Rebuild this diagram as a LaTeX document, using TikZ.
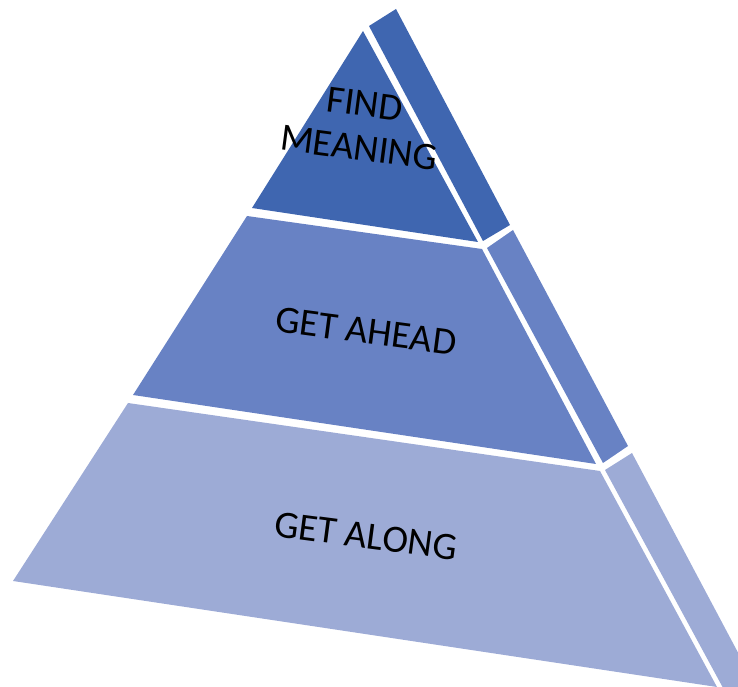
\documentclass[tikz,border=0pt]{standalone}
\usepackage{fontspec}
\setmainfont{Carlito}
\usepackage{tikz}
\usetikzlibrary{calc}

\definecolor{tierTop}{RGB}{63,102,176}
\definecolor{tierMid}{RGB}{104,130,196}
\definecolor{tierLow}{RGB}{157,171,214}

\tikzset{
  tiertext/.style={font=\fontsize{11}{12.6}\selectfont, text=black, align=center, rotate=-7.5},
}

\begin{document}
\begin{tikzpicture}[x=0.1mm,y=-0.1mm]
\useasboundingbox (0,0) rectangle (738,687);
\begin{scope}
\clip (0,0) rectangle (738,687);
% front face, three tiers
\fill[tierTop] (363,31) -- (252,208) -- (478,242) -- cycle;
\fill[tierMid] (247,216) -- (482,249) -- (596,464) -- (133,395) -- cycle;
\fill[tierLow] (128,403) -- (600,471) -- (717,687) -- (13,581) -- cycle;
% side face
\fill[tierTop] (369,26) -- (396,9) -- (510,225) -- (483,241) -- cycle;
\fill[tierMid] (487,248) -- (513,230) -- (628,446) -- (603,463) -- cycle;
\fill[tierLow] (605,470) -- (632,453) -- (760,694) -- (735,710) -- cycle;
\end{scope}

\node[tiertext] (find) at (362,126) {FIND\\MEANING};
\node[tiertext] (ahead) at (366,331) {GET AHEAD};
\node[tiertext] (along) at (366,536) {GET ALONG};
\end{tikzpicture}
\end{document}
